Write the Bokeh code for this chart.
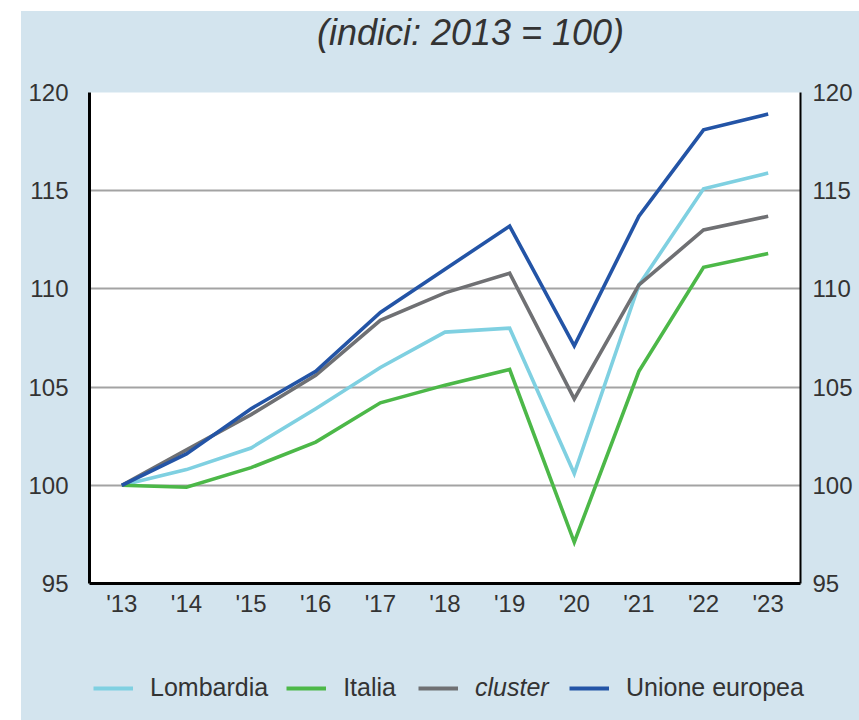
from bokeh.plotting import figure
from bokeh.models import (Range1d, LinearAxis, FixedTicker, Legend, LegendItem,
                          Label, Spacer)
from bokeh.layouts import row, column
from bokeh.embed import file_html
from bokeh.resources import INLINE

# ---- data ----
years = [2013, 2014, 2015, 2016, 2017, 2018, 2019, 2020, 2021, 2022, 2023]
year_labels = ["'13", "'14", "'15", "'16", "'17", "'18", "'19", "'20", "'21", "'22", "'23"]
lombardia = [100.0, 100.8, 101.9, 103.9, 106.0, 107.8, 108.0, 100.6, 110.2, 115.1, 115.9]
italia = [100.0, 99.9, 100.9, 102.2, 104.2, 105.1, 105.9, 97.1, 105.8, 111.1, 111.8]
cluster = [100.0, 101.8, 103.6, 105.6, 108.4, 109.8, 110.8, 104.4, 110.2, 113.0, 113.7]
ue = [100.0, 101.6, 103.9, 105.8, 108.8, 111.0, 113.2, 107.1, 113.7, 118.1, 118.9]
y_ticks = [95, 100, 105, 110, 115, 120]
series_names = ["Lombardia", "Italia", "cluster", "Unione europea"]
title_text = "(indici: 2013 = 100)"

# ---- style ----
BG = "#d3e4ee"
TXT = "#333333"
FONT = "Liberation Sans"
colors = ["#7fd0e1", "#4cb848", "#6f7073", "#2354a6"]
W = 838
all_series = [lombardia, italia, cluster, ue]

# ---- title strip ----
pt = figure(width=W, height=60, output_backend="svg", toolbar_location=None,
            x_axis_type=None, y_axis_type=None, min_border=0,
            background_fill_color=BG, border_fill_color=BG, outline_line_color=None)
pt.frame_align = False
pt.grid.visible = False
pt.add_layout(Label(x=449, y=39, x_units="screen", y_units="screen",
                    text=title_text, text_font=FONT, text_font_size="36px",
                    text_font_style="italic", text_color=TXT,
                    text_align="center", text_baseline="middle"))

# ---- main chart ----
p = figure(width=W, height=557, output_backend="svg", toolbar_location=None,
           x_range=Range1d(2012.5, 2023.5), y_range=Range1d(95, 120),
           min_border_left=68, min_border_right=59, min_border_top=21,
           min_border_bottom=45, background_fill_color="white",
           border_fill_color=BG, outline_line_color=None)
p.frame_align = False

p.xgrid.visible = False
p.ygrid.ticker = FixedTicker(ticks=y_ticks)
p.ygrid.grid_line_color = "#a3a3a3"
p.ygrid.grid_line_width = 2

def style_axis(ax, standoff, lw):
    ax.major_tick_in = 0
    ax.major_tick_out = 0
    ax.minor_tick_in = 0
    ax.minor_tick_out = 0
    ax.axis_line_color = "black"
    ax.axis_line_width = lw
    ax.major_label_standoff = standoff
    ax.major_label_text_font = FONT
    ax.major_label_text_font_size = "24px"
    ax.major_label_text_color = TXT

xa = p.xaxis[0]
xa.ticker = FixedTicker(ticks=years)
xa.major_label_overrides = {y: l for y, l in zip(years, year_labels)}
style_axis(xa, 6, 3)

ya = p.yaxis[0]
ya.ticker = FixedTicker(ticks=y_ticks)
style_axis(ya, 21, 3)

ra = LinearAxis(ticker=FixedTicker(ticks=y_ticks))
style_axis(ra, 12, 2)
p.add_layout(ra, "right")

for vals, c in zip(all_series, colors):
    p.line(years, vals, line_color=c, line_width=3.6, line_join="miter")

# ---- legend strip (series drawn out of view; only the legend shows) ----
pl = figure(width=W, height=92, output_backend="svg", toolbar_location=None,
            x_axis_type=None, y_axis_type=None, min_border=0,
            x_range=Range1d(0, 1), y_range=Range1d(0, 1),
            background_fill_color=BG, border_fill_color=BG, outline_line_color=None)
pl.frame_align = False
pl.grid.visible = False
leg_r = [pl.line(years, vals, line_color=c, line_width=4)
         for vals, c in zip(all_series, colors)]

def make_legend(idx, loc, style="normal"):
    items = [LegendItem(label=series_names[i], renderers=[leg_r[i]]) for i in idx]
    lg = Legend(items=items, location=loc, orientation="horizontal",
                padding=0, margin=0, spacing=18, label_standoff=17,
                glyph_width=40, glyph_height=20, label_height=20,
                border_line_color=None, background_fill_alpha=0,
                label_text_font=FONT, label_text_font_size="25px",
                label_text_color=TXT, label_text_font_style=style)
    pl.add_layout(lg, "center")

make_legend([0, 1], (72, 18))
make_legend([2], (397, 18), "italic")
make_legend([3], (548, 18))

inner = column(pt, p, pl, styles={"background-color": BG})
layout = column(Spacer(height=11), row(Spacer(width=21), inner))
open("out.html", "w").write(file_html(layout, INLINE))
